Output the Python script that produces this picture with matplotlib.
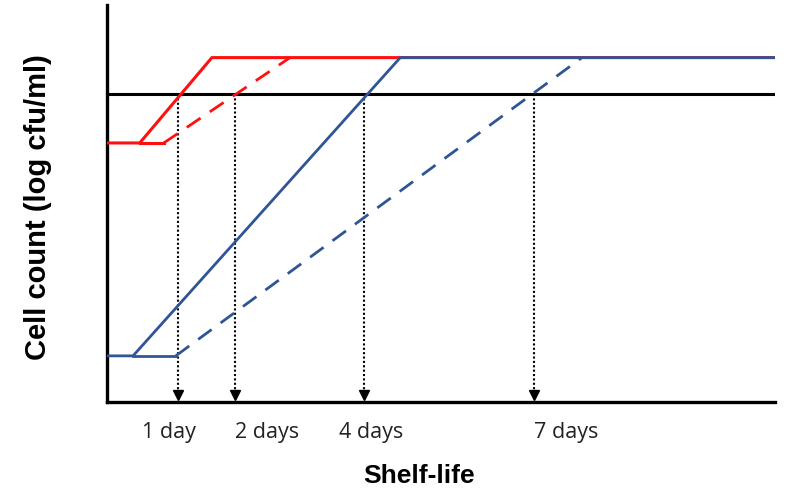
import numpy as np
import matplotlib
matplotlib.use("Agg")
import matplotlib.pyplot as plt

# growth curves (arbitrary time units, log cfu/ml)
red_solid_x = [0, 0.49, 1.57, 10]
red_solid_y = [5.22, 5.22, 6.94, 6.94]
red_lag_x = [0.49, 0.85]
red_lag_y = [5.22, 5.22]
red_dash_x = [0.85, 2.74]
red_dash_y = [5.22, 6.94]

blue_solid_x = [0, 0.39, 4.39, 10]
blue_solid_y = [0.93, 0.93, 6.94, 6.94]
blue_lag_x = [0.39, 1.03]
blue_lag_y = [0.93, 0.93]
blue_dash_x = [1.03, 7.11]
blue_dash_y = [0.93, 6.94]

threshold = 6.21
shelf_x = [1.06, 1.92, 3.85, 6.39]
shelf_labels = ["1 day", "2 days", "4 days", "7 days"]
label_x = [0.93, 2.40, 3.95, 6.87]

red = "#ff1010"
blue = "#2f5597"

fig = plt.figure(figsize=(7.93, 4.9), dpi=100)
ax = fig.add_axes([107/793, 88/490, 668/793, 397/490])
ax.set_xlim(0, 10)
ax.set_ylim(0, 8)

ax.axhline(threshold, color="black", lw=2.2, zorder=2)

ax.plot(red_solid_x, red_solid_y, color=red, lw=2.2, zorder=3)
ax.plot(red_lag_x, red_lag_y, color=red, lw=2.2, zorder=3)
ax.plot(red_dash_x, red_dash_y, color=red, lw=2.0, ls=(0, (6, 4)), zorder=3)
ax.plot(blue_solid_x, blue_solid_y, color=blue, lw=2.0, zorder=4)
ax.plot(blue_lag_x, blue_lag_y, color=blue, lw=2.0, zorder=4)
ax.plot(blue_dash_x, blue_dash_y, color=blue, lw=2.0, ls=(0, (6, 4)), zorder=4)

# dotted arrows down to the time axis
for xs in shelf_x:
    ax.plot([xs, xs], [threshold, 0.2], color="black", lw=1.5, ls=(0, (1, 1.1)), zorder=2)
    ax.plot([xs], [0.14], marker="v", color="black", markersize=7, zorder=2, clip_on=False)

for xl, lab in zip(label_x, shelf_labels):
    ax.text(xl, -0.076, lab, transform=ax.get_xaxis_transform(), ha="center", va="center",
            fontsize=15.5, family="Open Sans", color="#222222")

for s in ["top", "right"]:
    ax.spines[s].set_visible(False)
for s in ["left", "bottom"]:
    ax.spines[s].set_linewidth(2.4)
    ax.spines[s].set_color("black")
ax.set_xticks([])
ax.set_yticks([])

fig.text(38/793, 0.578, "Cell count (log cfu/ml)", rotation=90, ha="center", va="center",
         fontsize=21, fontweight="bold", family="Liberation Sans")
fig.text(419/793, 0.029, "Shelf-life", ha="center", va="center",
         fontsize=19, fontweight="bold", family="Liberation Sans")

fig.savefig("out.png", dpi=100)
